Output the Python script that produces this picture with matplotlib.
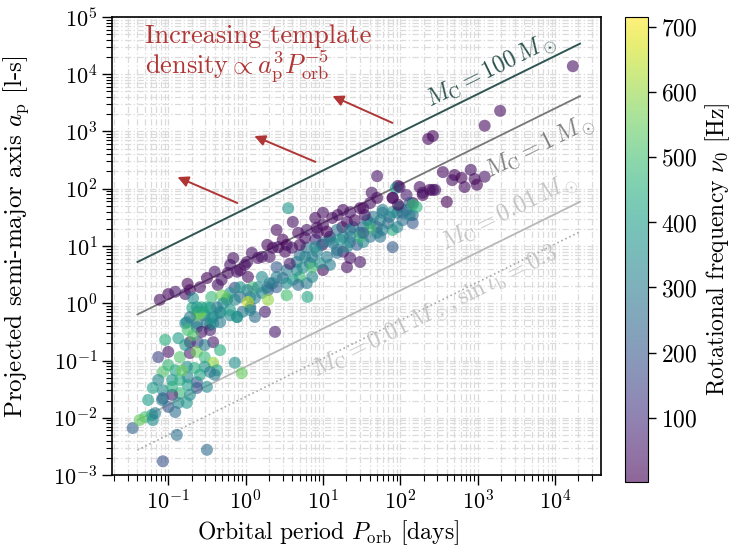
import numpy as np
import matplotlib.pyplot as plt

plt.rcParams.update({
    'font.family': 'serif',
    'font.serif': ['cmr10'],
    'mathtext.fontset': 'cm',
    'axes.formatter.use_mathtext': True,
    'font.size': 16,
})

# binary pulsars: log10 orbital period [days], log10 projected semi-major axis [l-s], spin frequency [Hz]
log_porb = [4.23, 3.29, 3.09, 2.42, 2.36, 1.70, 2.55, 2.70, 2.67, 2.79, 2.91, 2.96, 3.09, 2.83, 2.99,
            2.42, 2.29, 2.38, 2.60, 1.97, 1.94, 1.90,
            -1.11, -1.00, -0.75, -0.72, -0.78, -0.50, -0.40, -0.36, -0.20, -0.23, -0.11, -0.01, -0.14,
            0.03, 0.08, 0.28, 0.35, 0.42, 0.48, 0.31, 0.40, 0.53, 0.68, 0.79, 0.90, 1.00, 1.12, 1.19,
            1.26, 1.09, 1.25, 1.35, 1.48, 1.61, 1.63, 1.70, 1.90, 2.08, 2.16, 2.29, 2.45, 2.25, 1.99,
            1.00, 0.92, 1.31, 1.52, 0.90, 0.99, 1.26, 1.31, 1.48, 1.00, 0.61, 0.40, 0.02, 0.21,
            0.55, 0.70, 0.66, 0.74, 0.83, 0.92, 0.86, 0.53, 0.48, 0.35, 0.29, 0.21, 0.12, 0.06, -0.04,
            -0.20, -0.33, -0.42, -0.53, -0.62, -0.69, -0.76, -0.63, -0.46, -0.24, -0.20, -0.07, 0.06,
            0.28, 0.40, 0.53, 0.79, 0.80, 1.09, 1.18, 1.13, 1.35, 1.44, 1.52, 1.61, 1.70, 1.48, 1.26,
            1.35, 1.52, 1.61, 1.74, 1.86, 1.96, 2.08, 2.16, 2.21, 1.77, 1.70, 1.90, 2.03, 2.16, 1.90,
            1.74, 1.99, 2.12, 2.16, 1.61, 1.48, 0.86, 0.70, 0.29, 0.03, 0.09, -0.24, -0.44, -0.31,
            -0.55, -0.59, -0.68,
            -0.78, -0.75, -0.63, -0.50, -0.44, -0.63, -0.57, -0.46, -0.33, -0.20, -0.11, 0.06, 0.12,
            0.25, 0.38, -0.57, -0.72, -0.62, -0.46, -0.42, -0.87, -1.00, -1.13, -0.85, -0.72, -0.63,
            -0.53, -0.42, -0.37, -0.40, -0.53, -0.66, -0.76, -0.91, -1.07, -0.95, -0.85, -0.75, -0.63,
            -0.50, -0.63, -0.75, -0.85, -0.95, -1.07, -1.20, -1.07, -1.00, -0.87, -0.76, -1.08, -0.14,
            -0.05, -1.21, -1.30, -1.20, -1.17, -1.46, -0.89, -0.50, -1.07,
            0.77, 0.86, 0.79, 0.90, 1.00, 1.09, 1.18, 1.22, 1.35, 1.39, 1.57, 1.65, 1.77, 1.90, 2.03,
            2.12, 1.84, 1.96, 1.77, 1.52, 1.31, 1.18, 1.05, 0.96, 0.66, 0.61, 0.68, 0.53, 0.40, 0.31,
            0.16, 0.21, 0.02, -0.07, -0.14, -0.29, -0.37, -0.50, -0.63, -0.72, -0.42, -0.33, -0.11,
            0.16, 0.51, 0.60, 0.70, 0.77, 0.93, 1.05, 1.41, 1.54, -0.07, -0.31, -0.59, -0.91, -0.16,
            0.57, 1.35, 1.97,
            -1.04, -0.78, -0.68, -0.53, -0.33, -1.00, -0.82, -0.59, -0.46, -1.13, -0.95, -0.72, -1.26,
            -0.91, -1.37]
log_ap = [4.14, 3.36, 3.10, 2.92, 2.87, 2.22, 2.29, 2.24, 2.15, 2.19, 2.33, 2.17, 2.21, 2.03, 2.07,
          1.98, 1.89, 1.98, 1.77, 2.05, 2.01, 1.84,
          0.06, 0.16, 0.34, 0.23, 0.16, 0.44, 0.55, 0.32, 0.67, 0.53, 0.55, 0.67, 0.27,
          0.46, 0.88, 1.02, 0.97, 0.98, 1.11, 0.81, 0.63, 1.02, 1.23, 1.28, 1.49, 1.37, 1.49, 1.54,
          1.63, 1.16, 1.33, 1.59, 1.66, 1.75, 1.93, 1.84, 1.84, 1.89, 1.75, 1.93, 1.98, 2.03, 2.03,
          1.58, 1.32, 1.42, 1.66, 1.11, 1.02, 0.90, 0.63, 0.72, 0.58, 1.42, 1.28, 0.72, 0.81,
          1.66, 0.84, 0.72, 0.62, 0.70, 0.90, 0.46, 0.58, 0.44, 0.35, 0.23, 0.18, 0.09, -0.07, -0.15,
          -0.21, -0.15, -0.24, -0.21, -0.15, -0.08, -0.33, -0.35, -0.38, 0.06, 0.18, 0.11, 0.11,
          0.28, 0.28, 0.14, 0.35, 0.11, 0.67, 0.88, 1.05, 1.07, 1.02, 1.07, 1.16, 1.23, 1.23, 1.16,
          1.28, 1.33, 1.40, 1.45, 1.51, 1.58, 1.63, 1.54, 1.68, 1.58, 1.33, 1.28, 1.45, 1.40, 0.98,
          1.16, 1.68, 1.75, 1.72, 1.32, 1.16, 0.63, 0.46, 0.06, 0.02, 0.28, 0.09, 0.11, 0.14,
          -0.15, -0.17, 0.09,
          -0.35, -0.47, -0.42, -0.35, -0.26, -0.21, -0.07, -0.08, -0.17, -0.12, -0.24, -0.12, -0.24,
          -0.15, -0.50, -0.50, -0.68, -0.68, -0.47, -0.68, -0.61, -0.85, -0.94, -0.94, -0.87, -0.85,
          -0.94, -1.04, -1.17, -1.25, -1.11, -1.13, -1.11, -1.17, -1.20, -1.34, -1.34, -1.29, -1.38,
          -1.46, -1.48, -1.43, -1.57, -1.60, -1.52, -1.48, -1.66, -1.81, -1.74, -1.74, -1.69, -1.04,
          -1.22, -1.95, -1.99, -2.04, -1.92, -2.18, -2.30, -2.56, -2.76,
          0.81, 0.81, 0.97, 0.98, 1.05, 1.11, 1.28, 1.11, 1.16, 1.33, 1.45, 1.51, 1.63, 1.59, 1.58,
          1.54, 1.40, 1.33, 1.28, 1.23, 0.98, 0.93, 0.81, 0.70, 0.58, 0.41, 0.32, 0.35, 0.46, 0.35,
          0.28, 0.46, 0.23, 0.28, 0.06, 0.00, -0.07, -0.07, -0.07, -0.24, -0.35, -0.33, -0.24,
          0.79, 0.90, 0.97, 1.02, 1.14, 1.23, 1.25, 1.45, 1.54, 0.58, 0.41, 0.28, 0.20, 0.79,
          0.69, 0.79, 1.72,
          -0.64, -0.73, -0.56, -0.73, -0.82, -1.08, -1.17, -1.25, -1.20, -1.34, -1.46, -1.60, -1.69,
          -1.90, -2.04]
nu_hz = [30, 25, 20, 10, 15, 40, 20, 10, 25, 8, 30, 20, 35, 25, 12,
         30, 15, 10, 5, 30, 380, 40,
         30, 10, 8, 15, 35, 10, 40, 30, 45, 20, 35, 30, 150,
         25, 40, 15, 10, 30, 12, 35, 200, 8, 20, 40, 15, 25, 10, 30,
         20, 45, 8, 35, 12, 30, 40, 15, 20, 50, 10, 30, 40, 25, 35,
         30, 20, 40, 20, 100, 30, 50, 30, 40, 25, 35, 20, 30, 45,
         380, 250, 300, 350, 280, 320, 330, 300, 250, 330, 200, 350, 300, 200, 280,
         350, 400, 320, 280, 360, 420, 300, 250, 400, 300, 350, 250, 330,
         300, 220, 500, 300, 420, 300, 250, 280, 300, 220, 330, 280, 350, 300, 260,
         320, 250, 300, 350, 280, 300, 220, 250, 450, 300, 220, 450, 260, 200, 210,
         280, 330, 200, 480, 500, 480, 500, 480, 600, 650, 500, 520, 480, 560,
         470, 580, 350,
         350, 500, 320, 280, 380, 550, 450, 350, 330, 400, 300, 350, 260,
         60, 50, 40, 10, 150, 60, 50, 400, 40, 150, 520, 60, 560,
         480, 600, 400, 300, 380, 450, 350, 420, 520, 380, 450, 330, 200,
         350, 180, 400, 480, 60, 350, 400, 180, 200, 330, 380, 300, 360,
         550, 380, 500, 350, 300, 220, 260, 250, 180,
         330, 300, 280, 350, 260, 320, 280, 380, 300, 250, 330, 280, 300, 350, 250,
         300, 260, 320, 300, 220, 330, 280, 300, 350, 330, 380, 250, 350, 300, 280,
         330, 350, 300, 380, 330, 350, 300, 420, 380, 300, 350, 300, 380,
         30, 20, 45, 15, 30, 35, 10, 25, 40, 20, 35, 25, 40, 30,
         50, 40, 15,
         450, 380, 520, 300, 450, 480, 550, 420, 300, 330, 450, 350, 400,
         260, 550]

porb = 10 ** np.array(log_porb)
ap = 10 ** np.array(log_ap)
nu = np.array(nu_hz)

# companion-mass lines (pulsar mass 1.4 Msun)
GM_sun = 1.32712e20
c = 2.99792458e8
mp = 1.4
p_line = np.logspace(np.log10(0.04), np.log10(2.1e4), 50)


def ap_line(mc, sini=1.0):
    pb = p_line * 86400.0
    a = (GM_sun * mc**3 / (mp + mc)**2) ** (1 / 3) * (pb / (2 * np.pi)) ** (2 / 3)
    return a * sini / c


fig = plt.figure(figsize=(7.39, 5.47), dpi=100)
ax = fig.add_axes([0.1516, 0.1316, 0.6617, 0.8374])
ax.set_xscale('log')
ax.set_yscale('log')

ax.grid(which='both', color='0.86', ls=(0, (5, 2, 1, 2)), lw=0.9)
ax.set_axisbelow(True)

ax.plot(p_line, ap_line(100), color='#2f5550', lw=1.4)
ax.plot(p_line, ap_line(1), color='#777777', lw=1.3)
ax.plot(p_line, ap_line(0.01), color='#b8b8b8', lw=1.3)
ax.plot(p_line, ap_line(0.01, 0.3), color='#aaaaaa', lw=1.2, ls=':')

sc = ax.scatter(porb, ap, c=nu, cmap='viridis', vmin=1, vmax=716, s=75, alpha=0.6,
                edgecolors='none', zorder=3)

rot = 26.3
ax.text(10**3.18, 10**4.04, r'$M_\mathrm{C} = 100\,M_\odot$', color='#2f5550', rotation=rot,
        rotation_mode='anchor', ha='center', va='center', fontsize=17)
ax.text(10**3.80, 10**2.71, r'$M_\mathrm{C} = 1\,M_\odot$', color='#808080', rotation=rot,
        rotation_mode='anchor', ha='center', va='center', fontsize=17)
ax.text(10**3.41, 10**1.57, r'$M_\mathrm{C} = 0.01\,M_\odot$', color='#c4c4c4', rotation=rot,
        rotation_mode='anchor', ha='center', va='center', fontsize=17)
ax.text(10**2.45, 10**-0.17, r'$M_\mathrm{C} = 0.01\,M_\odot, \sin\iota_\mathrm{b} = 0.3$',
        color='#c4c4c4', rotation=rot, rotation_mode='anchor', ha='center', va='center',
        fontsize=17)

red = '#b03535'
ax.text(0.067, 0.985, 'Increasing template\ndensity$\\propto a_\\mathrm{p}^3 P_\\mathrm{orb}^{-5}$',
        transform=ax.transAxes, color=red, fontsize=19, ha='left', va='top', linespacing=1.05)
arrows = [((85, 1350), (12.3, 4350)), ((8.6, 282), (1.2, 869)), ((0.84, 54), (0.122, 167))]
for tail, head in arrows:
    ax.annotate('', xy=head, xytext=tail,
                arrowprops=dict(arrowstyle='-|>', color=red, lw=1.4, mutation_scale=16))

ax.set_xlim(0.01875, 3.93e4)
ax.set_ylim(1e-3, 1e5)
ax.tick_params(which='major', length=7, width=1, labelsize=16)
ax.tick_params(which='minor', length=4, width=0.8)
for s in ax.spines.values():
    s.set_linewidth(1.2)
ax.set_xlabel(r'Orbital period $P_\mathrm{orb}$ [days]', fontsize=17)
ax.set_ylabel(r'Projected semi-major axis $a_\mathrm{p}$ [l-s]', fontsize=18)
ax.xaxis.set_label_coords(0.442, -0.095)
ax.yaxis.set_label_coords(-0.165, 0.52)

cax = fig.add_axes([0.8457, 0.119, 0.0311, 0.85])
cb = fig.colorbar(sc, cax=cax)
cb.set_ticks([100, 200, 300, 400, 500, 600, 700])
cb.ax.tick_params(length=6, width=1, labelsize=17)
cb.set_label(r'Rotational frequency $\nu_0$ [Hz]', fontsize=17)

fig.savefig('out.png', dpi=100)
